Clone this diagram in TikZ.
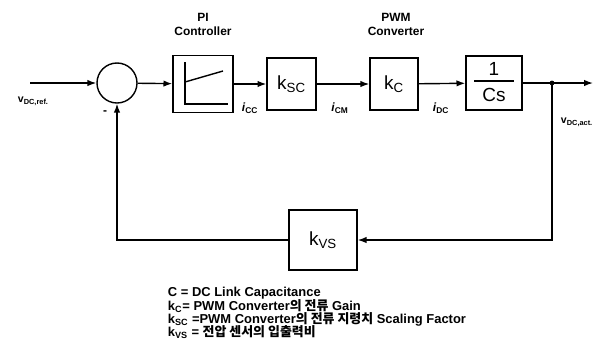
\documentclass[tikz,border=0pt]{standalone}
\usepackage{fontspec}
\setmainfont{Liberation Sans}
\newfontfamily\kr{Noto Sans CJK KR}
\usetikzlibrary{arrows.meta, positioning, calc}

\tikzset{
  blk/.style={draw, line width=1pt, minimum width=#1, inner sep=0pt},
  sumnode/.style={draw, line width=1pt, circle, minimum size=1cm, inner sep=0pt},
  lbl/.style={font=\fontsize{8.5}{9}\selectfont\bfseries},
  leg/.style={anchor=west, font=\fontsize{9.2}{10}\selectfont\bfseries},
  big/.style={font=\fontsize{13.5}{14}\selectfont},
  flow/.style={line width=1pt, -{Latex[length=2.2mm, width=1.6mm]}}
}

\begin{document}
\begin{tikzpicture}[x=0.025cm, y=-0.025cm]
    \useasboundingbox (0,0) rectangle (605,351);
    % forward path
    \coordinate (vin) at (30,83);
    \node[sumnode] (sum) at (117,83) {};
    \node[blk=1.5cm, minimum height=1.42cm] (pi) at (203,84) {};
    \node[blk=1.22cm, minimum height=1.3cm, big] (ksc) at (291.5,84) {k\textsubscript{SC}};
    \node[blk=1.2cm, minimum height=1.3cm, big] (kc) at (394,84) {k\textsubscript{C}};
    \node[blk=1.4cm, minimum height=1.35cm] (cs) at (494,83) {};
    \coordinate (vout) at (593,83);
    \coordinate (tap) at (552,83);
    % feedback
    \node[blk=1.7cm, minimum height=1.5cm, big] (kvs) at (323,240) {k\textsubscript{VS}};
    \coordinate (fbr) at (552,240);
    \coordinate (fbl) at (117,240);

    \draw[flow] (vin) -- (sum);
    \draw[flow] (sum) -- (pi);
    \draw[flow] (pi) -- (ksc);
    \draw[flow] (ksc) -- (kc);
    \draw[flow] (kc) -- (cs);
    \draw[flow] (cs.east |- tap) -- (vout);
    \fill (tap) circle (2.4);
    \draw[flow] (tap) -- (fbr) -- (kvs);
    \draw[flow] (kvs) -- (fbl) -- (sum);

    % PI characteristic
    \draw[line width=1pt] (185,62) -- (185,104) -- (228,104);
    \draw[line width=1pt] (185,82) -- (223,71);
    % 1/Cs
    \node[big] (one) at (494,69) {1};
    \draw[line width=1pt] (474,81) -- (514,81);
    \node[big] (csl) at (494,95) {Cs};

    % labels
    \node[lbl, align=center] (pit) at (203,24) {PI\\[1pt]Controller};
    \node[lbl, align=center] (pwmt) at (396,24) {PWM\\[1pt]Converter};
    \node[lbl] (icc) at (250,108) {\textit{i}\textsubscript{CC}};
    \node[lbl] (icm) at (340,108) {\textit{i}\textsubscript{CM}};
    \node[lbl] (idc) at (441,108) {\textit{i}\textsubscript{DC}};
    \node[anchor=west, font=\fontsize{7.5}{8}\selectfont\bfseries] (vref) at (13,101) {v\textsubscript{DC,ref.}};
    \node[lbl] (minus) at (105,113) {-};
    \node[anchor=west, font=\fontsize{7.5}{8}\selectfont\bfseries] (vact) at (556,122) {v\textsubscript{DC,act.}};

    % legend
    \node[leg] (leg1) at (163,293) {C = DC Link Capacitance};
    \node[leg] (leg2) at (163,306) {k\textsubscript{C}= PWM Converter{\kr 의 전류} Gain};
    \node[leg] (leg3) at (163,319) {k\textsubscript{SC} =PWM Converter{\kr 의 전류 지령치} Scaling Factor};
    \node[leg] (leg4) at (163,332) {k\textsubscript{VS} = {\kr 전압 센서의 입출력비}};
\end{tikzpicture}
\end{document}
